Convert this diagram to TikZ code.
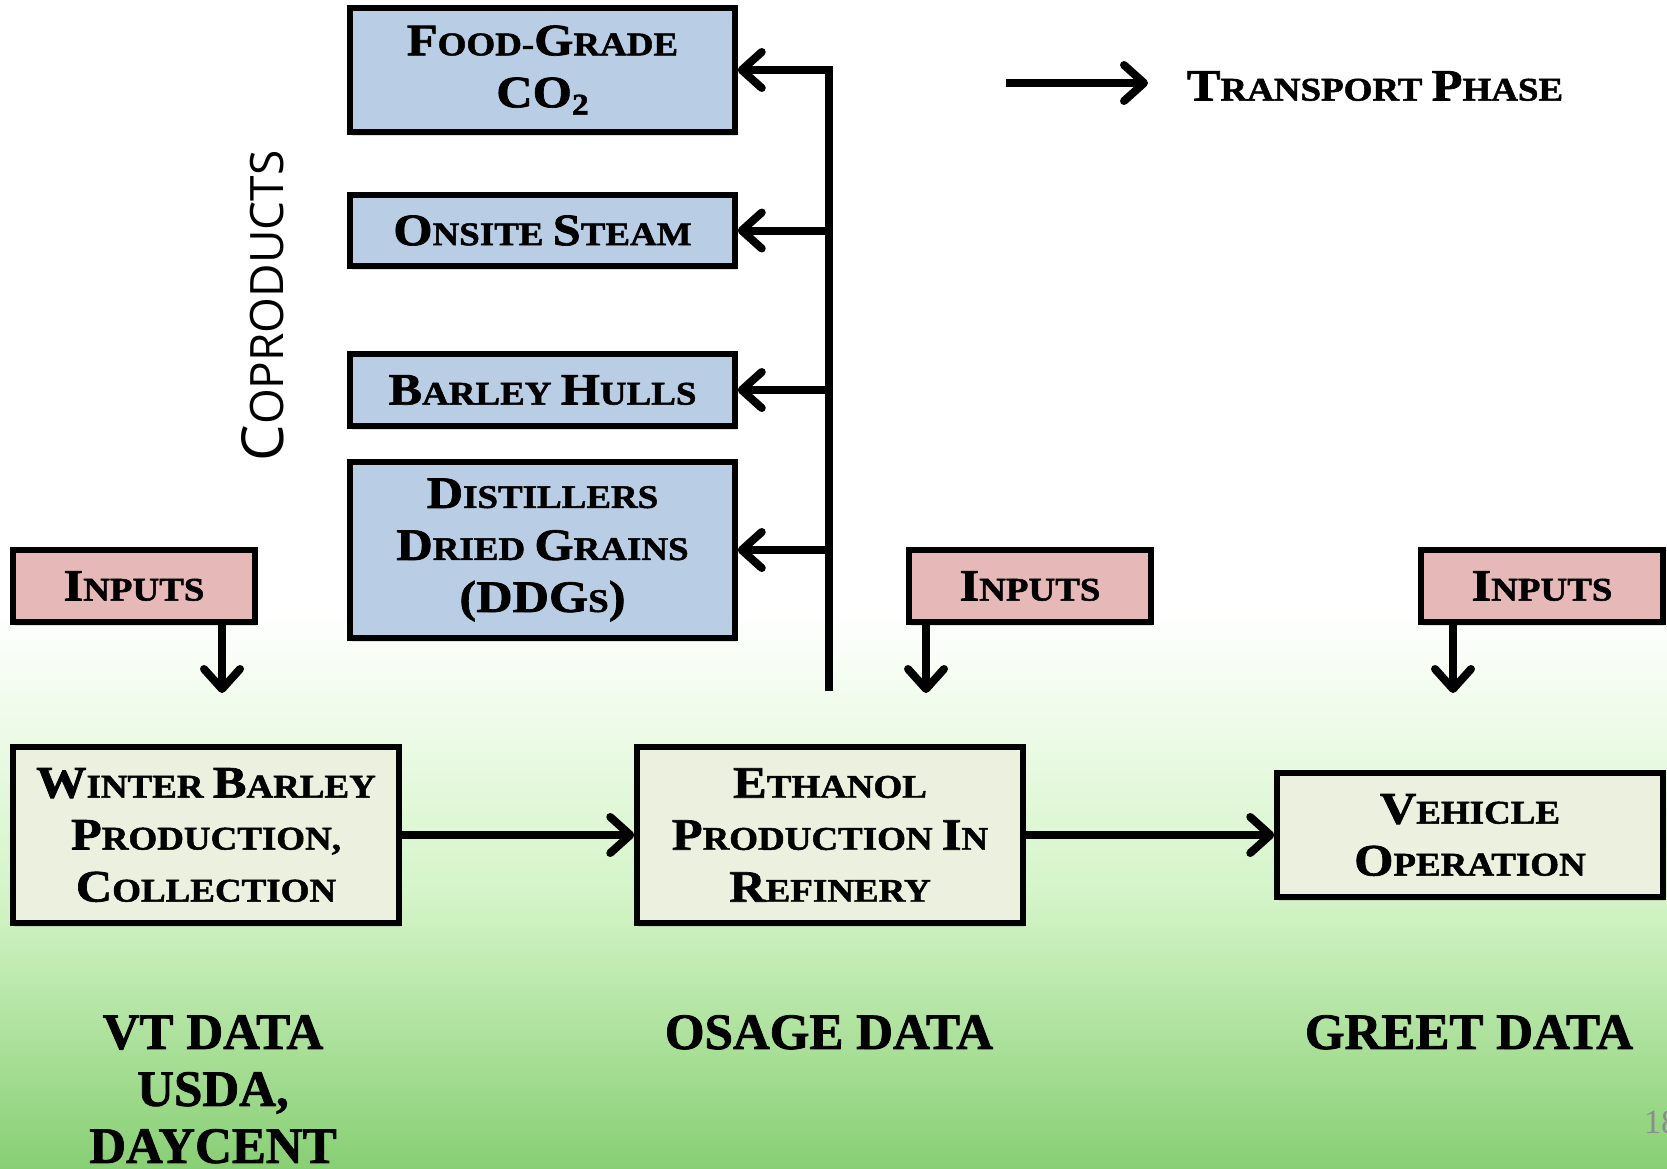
\documentclass[tikz,border=0pt]{standalone}
\usepackage{fontspec}
\setmainfont{Liberation Serif}
\newfontfamily\boxfont[FakeStretch=1.12, FakeBold=1.5]{Liberation Serif}
\newfontfamily\datafont[FakeBold=1.5]{Liberation Serif}
\newfontfamily\coprodfont{Open Sans}
\usetikzlibrary{arrows.meta,shadows}
\definecolor{cblue}{HTML}{B9CDE5}
\definecolor{cpink}{HTML}{E6B9B8}
\definecolor{cbeige}{HTML}{EBF1DE}
\definecolor{bgA}{HTML}{D3F4C6}
\definecolor{bgB}{HTML}{88CF74}
\definecolor{numgray}{HTML}{8C8C8C}
\newcommand\Up[1]{{\fontsize{45}{52}\selectfont #1}}
\tikzset{
  boxtext/.style={font=\boxfont\bfseries\fontsize{33}{52}\selectfont, align=center},
  basebox/.style={boxtext, draw=black, line width=5.5pt, inner sep=0pt,
    drop shadow={opacity=0.25, shadow xshift=2pt, shadow yshift=-4pt}},
  coprod/.style={basebox, fill=cblue, minimum width=385pt},
  inbox/.style={basebox, fill=cpink, minimum width=242pt, minimum height=72pt},
  stagebox/.style={basebox, fill=cbeige, minimum width=386pt},
  flow/.style={line width=8pt, -{Straight Barb[length=20pt, width=36pt, round]}},
  plainline/.style={line width=8pt},
  datatext/.style={font=\datafont\bfseries\fontsize{51}{57}\selectfont, align=center, inner sep=0pt, anchor=north}
}
\begin{document}
\begin{tikzpicture}[x=1pt, y=-1pt]
\useasboundingbox (0,0) rectangle (1667,1168);
% background
\fill[white] (0,0) rectangle (1667,1168);
\shade[top color=white, bottom color=bgA] (0,610) rectangle (1667,900);
\shade[top color=bgA, bottom color=bgB] (0,900) rectangle (1667,1168);

% coproduct boxes
\node[coprod, minimum height=124pt] (co2) at (542.5,70) {\Up{F}OOD-\Up{G}RADE\\\Up{CO}\raisebox{-0.22em}{\fontsize{30}{30}\selectfont 2}};
\node[coprod, minimum height=71pt] (steam) at (542.5,230.5) {\Up{O}NSITE \Up{S}TEAM};
\node[coprod, minimum height=72pt] (hulls) at (542.5,390) {\Up{B}ARLEY \Up{H}ULLS};
\node[coprod, minimum height=176pt] (ddg) at (542.5,550) {\Up{D}ISTILLERS\\\Up{D}RIED \Up{G}RAINS\\\Up{(DDG}S\Up{)}};

\node[font=\coprodfont\fontsize{46}{50}\selectfont, rotate=90, inner sep=0pt] (coplabel) at (263,306) {{\fontsize{58}{60}\selectfont C}OPRODUCTS};

% inputs
\node[inbox] (in1) at (134,586) {\Up{I}NPUTS};
\node[inbox] (in2) at (1030,586) {\Up{I}NPUTS};
\node[inbox] (in3) at (1542,586) {\Up{I}NPUTS};

% stages
\node[stagebox, minimum height=176pt] (wb) at (206,835) {\Up{W}INTER \Up{B}ARLEY\\\Up{P}RODUCTION,\\\Up{C}OLLECTION};
\node[stagebox, minimum height=176pt] (eth) at (830,835) {\Up{E}THANOL\\\Up{P}RODUCTION \Up{I}N\\\Up{R}EFINERY};
\node[stagebox, minimum height=124pt] (veh) at (1470,835) {\Up{V}EHICLE\\\Up{O}PERATION};

% trunk of coproducts
\coordinate (tb) at (829,691);
\draw[plainline] (tb) -- ([yshift=4pt]tb |- co2.east);
\draw[flow] (tb |- co2.east) -- (co2.east);
\draw[flow] (tb |- steam.east) -- (steam.east);
\draw[flow] (tb |- hulls.east) -- (hulls.east);
\draw[flow] (tb |- ddg.east) -- (ddg.east);

% input arrows
\coordinate (a1) at (222,693);
\coordinate (a2) at (926,693);
\coordinate (a3) at (1453,693);
\draw[flow] (in1.south -| a1) -- (a1);
\draw[flow] (in2.south -| a2) -- (a2);
\draw[flow] (in3.south -| a3) -- (a3);

% transport arrows
\draw[flow] (wb.east) -- (eth.west);
\draw[flow] (eth.east) -- (veh.west);

% legend
\coordinate (l1) at (1006,83);
\coordinate (l2) at (1148,83);
\draw[flow] (l1) -- (l2);
\node[boxtext, inner sep=0pt] (legend) at (1375,86) {\Up{T}RANSPORT \Up{P}HASE};

% data labels
\node[datatext] (vt) at (213,1015) {VT DATA\\USDA,\\DAYCENT};
\node[datatext] (osage) at (829,1015) {OSAGE DATA};
\node[datatext] (greet) at (1469,1015) {GREET DATA};

\node[font=\fontsize{34}{36}\selectfont, text=numgray, anchor=west, inner sep=0pt] (pnum) at (1644,1122) {18};
\end{tikzpicture}
\end{document}
